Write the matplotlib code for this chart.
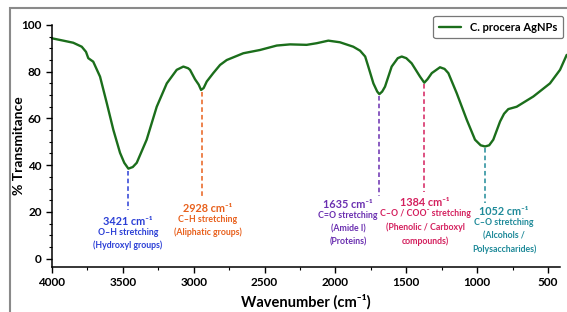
import numpy as np
import matplotlib.pyplot as plt
from matplotlib.patches import Rectangle
from matplotlib.ticker import MultipleLocator

plt.rcParams['font.family'] = ['Lato', 'DejaVu Sans']

# spectrum (wavenumber, % transmittance)
wavenumber = [4000, 3960, 3920, 3850, 3790, 3760, 3744, 3709, 3661, 3614, 3567, 3520,
              3490, 3461, 3430, 3402, 3332, 3261, 3190, 3120, 3073, 3040, 3026, 2991,
              2965, 2948, 2930, 2908, 2862, 2814, 2767, 2650, 2532, 2414, 2320, 2203,
              2132, 2050, 1968, 1874, 1826, 1790, 1768, 1732, 1705, 1690, 1670, 1650,
              1603, 1560, 1532, 1500, 1462, 1403, 1373, 1350, 1320, 1262, 1230, 1203,
              1144, 1073, 1015, 975, 944, 915, 886, 838, 810, 780, 721, 603, 486, 415, 368]
transmittance = [94.3, 93.8, 93.3, 92.4, 90.7, 88.5, 85.8, 84.3, 77.9, 66.7, 55.1, 45.3,
                 41.0, 38.5, 39.2, 41.0, 50.9, 65.0, 75.0, 80.8, 82.2, 81.5, 80.8, 76.8,
                 74.5, 72.2, 73.0, 75.8, 79.4, 82.9, 85.0, 87.9, 89.3, 91.2, 91.7, 91.5,
                 92.2, 93.3, 92.6, 90.7, 89.0, 86.5, 82.2, 75.0, 71.5, 70.4, 71.5, 73.6,
                 82.2, 85.8, 86.5, 85.8, 83.6, 77.9, 75.3, 76.8, 79.4, 81.9, 81.2, 79.4,
                 70.8, 59.4, 50.9, 48.5, 48.0, 48.5, 50.9, 58.7, 62.0, 64.0, 65.0, 69.4,
                 75.0, 80.8, 87.2]

# peak annotations
peak_x = [3461, 2944, 1690, 1373, 944]
peak_top = [37.5, 71.5, 69.8, 74.6, 47.4]
peak_bottom = [21, 26.6, 26.6, 28.3, 24]
peak_titles = ['3421 cm⁻¹', '2928 cm⁻¹', '1635 cm⁻¹', '1384 cm⁻¹', '1052 cm⁻¹']
peak_notes = ['O–H stretching\n(Hydroxyl groups)',
              'C–H stretching\n(Aliphatic groups)',
              'C=O stretching\n(Amide I)\n(Proteins)',
              'C–O / COO⁻ stretching\n(Phenolic / Carboxyl\ncompounds)',
              'C–O stretching\n(Alcohols /\nPolysaccharides)']
label_x = [3464, 2901, 1911, 1368, 810]
title_y = [16.0, 21.6, 23.1, 23.9, 20.1]
peak_colors = ['#2b3fd6', '#e8601c', '#6a2fb0', '#d4205e', '#1f8a99']

fig = plt.figure(figsize=(5.67, 3.12), dpi=100)
ax = fig.add_axes([0.0917, 0.1442, 0.896, 0.7757])

ax.plot(wavenumber, transmittance, color='#1b6e1b', lw=1.7, label='C. procera AgNPs',
        clip_on=False, solid_capstyle='round')

for x, t, b, tt, note, lx, ty, c in zip(peak_x, peak_top, peak_bottom, peak_titles,
                                        peak_notes, label_x, title_y, peak_colors):
    ax.plot([x, x], [t, b], ls=(0, (3, 2)), color=c, lw=1.1)
    ax.text(lx, ty, tt, color=c, fontsize=7.8, fontweight='bold', ha='center', va='center')
    ax.text(lx, ty - 2.8, note, color=c, fontsize=6.3, fontweight='bold', ha='center',
            va='top', linespacing=1.55)

ax.set_xlim(4000, 415)
ax.set_ylim(-3.6, 100)
ax.xaxis.set_major_locator(MultipleLocator(500))
ax.xaxis.set_minor_locator(MultipleLocator(250))
ax.yaxis.set_major_locator(MultipleLocator(20))
ax.yaxis.set_minor_locator(MultipleLocator(5))
ax.spines['top'].set_visible(False)
ax.spines['right'].set_visible(False)
for s in ['left', 'bottom']:
    ax.spines[s].set_linewidth(1.1)
ax.tick_params(which='major', length=4, width=1, labelsize=8.5)
ax.tick_params(which='minor', length=2, width=0.8)
for lab in ax.get_xticklabels() + ax.get_yticklabels():
    lab.set_fontweight('bold')

ax.set_xlabel('Wavenumber (cm⁻¹)', fontsize=10.5, fontweight='bold', labelpad=4)
ax.set_ylabel('% Transmitance', fontsize=10, fontweight='bold')
ax.yaxis.set_label_coords(-0.053, 0.5)

leg = ax.legend(loc='upper right', bbox_to_anchor=(1.006, 1.037), borderaxespad=0,
                prop={'weight': 'bold', 'size': 8},
                frameon=True, fancybox=True, edgecolor='#555555', handlelength=2.0,
                borderpad=0.5)
leg.get_frame().set_linewidth(0.9)

fig.patches.append(Rectangle((10 / 567, -0.2), 1.2, 0.974 + 0.2, transform=fig.transFigure,
                             fill=False, edgecolor='#8a8a8a', lw=1.5))

fig.savefig('out.png', dpi=100)
